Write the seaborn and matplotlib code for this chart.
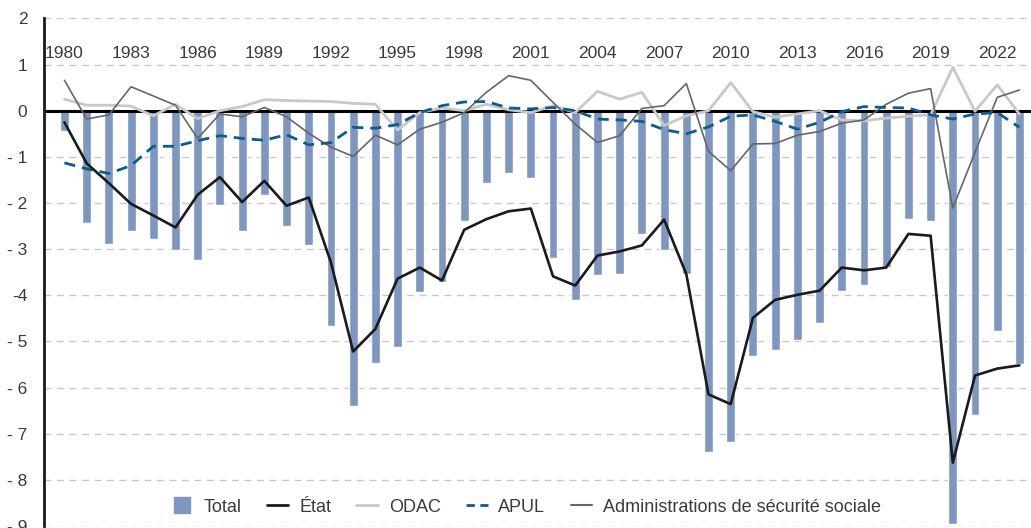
import pandas as pd
import matplotlib.pyplot as plt
import numpy as np
import seaborn as sns
from matplotlib.lines import Line2D

# Soldes des administrations publiques (en points de PIB), 1980-2023
years = list(range(1980, 2024))

total = [-0.45, -2.44, -2.88, -2.60, -2.79, -3.01, -3.24, -2.05, -2.60, -1.82,
         -2.49, -2.90, -4.66, -6.41, -5.46, -5.13, -3.92, -3.72, -2.40, -1.56,
         -1.34, -1.45, -3.20, -4.11, -3.57, -3.53, -2.68, -3.01, -3.53, -7.40,
         -7.18, -5.31, -5.18, -4.97, -4.60, -3.90, -3.77, -3.38, -2.34, -2.40,
         -8.95, -6.59, -4.77, -5.49]

etat = [-0.25, -1.14, -1.57, -2.02, -2.27, -2.53, -1.82, -1.44, -1.98, -1.52,
        -2.06, -1.88, -3.29, -5.22, -4.73, -3.64, -3.40, -3.68, -2.58, -2.35,
        -2.18, -2.12, -3.59, -3.79, -3.14, -3.05, -2.92, -2.36, -3.54, -6.15,
        -6.36, -4.49, -4.10, -3.99, -3.90, -3.40, -3.46, -3.40, -2.67, -2.71,
        -7.63, -5.74, -5.59, -5.52]

odac = [0.25, 0.12, 0.12, 0.10, -0.11, 0.14, -0.17, 0.00, 0.09, 0.24,
        0.22, 0.21, 0.20, 0.16, 0.14, -0.42, -0.04, 0.06, 0.00, 0.14,
        0.02, -0.04, 0.11, -0.04, 0.42, 0.25, 0.40, -0.32, -0.11, 0.00,
        0.61, -0.02, -0.14, -0.07, 0.00, -0.20, -0.22, -0.16, -0.12, -0.09,
        0.94, -0.01, 0.56, -0.07]

apul = [-1.13, -1.26, -1.36, -1.19, -0.77, -0.77, -0.65, -0.54, -0.60, -0.64,
        -0.52, -0.74, -0.69, -0.36, -0.38, -0.30, -0.04, 0.11, 0.19, 0.20,
        0.06, 0.04, 0.07, 0.00, -0.18, -0.20, -0.23, -0.41, -0.50, -0.35,
        -0.12, -0.09, -0.23, -0.40, -0.25, -0.02, 0.09, 0.07, 0.06, -0.09,
        -0.18, -0.07, -0.04, -0.36]

asso = [0.66, -0.18, -0.09, 0.52, 0.32, 0.12, -0.60, -0.07, -0.13, 0.07,
        -0.13, -0.49, -0.79, -0.99, -0.53, -0.74, -0.40, -0.25, -0.04, 0.40,
        0.76, 0.66, 0.18, -0.29, -0.69, -0.54, 0.05, 0.11, 0.59, -0.88,
        -1.30, -0.72, -0.71, -0.53, -0.45, -0.27, -0.20, 0.14, 0.38, 0.48,
        -2.11, -0.90, 0.29, 0.45]

year_labels = list(range(1980, 2024, 3))
ytick_vals = list(range(2, -10, -1))
ytick_labels = ["2", "1", "0", "- 1", "- 2", "- 3", "-4", "- 5", "- 6", "- 7", "- 8", "- 9"]

df = pd.DataFrame({"year": years, "Total": total, "État": etat, "ODAC": odac,
                   "APUL": apul, "ASSO": asso})

sns.set_style("white")
plt.rcParams["font.family"] = ["Liberation Sans", "DejaVu Sans"]
txt = "#3a3a3a"

fig = plt.figure(figsize=(10.31, 5.28), dpi=100)
ax = fig.add_axes([44 / 1031, 0.004, 987 / 1031, 0.961])

# grille pointillée
for v in ytick_vals:
    if v != 0:
        ax.axhline(v, color="#c8c8c8", lw=1, dashes=(5, 4), zorder=0)

sns.barplot(data=df, x="year", y="Total", native_scale=True, width=0.4,
            color="#7f96bf", saturation=1, ax=ax, zorder=1)

ax.axhline(0, color="black", lw=2.2, zorder=2)

sns.lineplot(data=df, x="year", y="ODAC", color="#c8c8c8", lw=2, ax=ax, zorder=3)
sns.lineplot(data=df, x="year", y="ASSO", color="#666666", lw=1.2, ax=ax, zorder=4)
sns.lineplot(data=df, x="year", y="APUL", color="#0d5b8f", lw=2, ax=ax, zorder=5)
ax.lines[-1].set_dashes((4, 2.5))
sns.lineplot(data=df, x="year", y="État", color="#1a1a1a", lw=1.9, ax=ax, zorder=6)

ax.set_xlim(1979.08, 2023.52)
ax.set_ylim(-9, 2)
ax.set_yticks(ytick_vals)
ax.set_yticklabels(ytick_labels)
ax.set_xticks([])
ax.set_xlabel("")
ax.set_ylabel("")
ax.tick_params(axis="y", length=0, pad=12, labelsize=12.5, labelcolor=txt)

for y in year_labels:
    ax.text(y, 1.25, str(y), ha="center", va="center", fontsize=12.5, color=txt)

for s in ["top", "right", "bottom"]:
    ax.spines[s].set_visible(False)
ax.spines["left"].set_color("#1a1a1a")
ax.spines["left"].set_linewidth(2)

handles = [
    Line2D([], [], marker="s", ls="none", color="#7f96bf", markersize=11),
    Line2D([], [], color="#1a1a1a", lw=2),
    Line2D([], [], color="#c8c8c8", lw=2),
    Line2D([], [], color="#0d5b8f", lw=2, dashes=(3, 2)),
    Line2D([], [], color="#666666", lw=1.5),
]
labels = ["Total", "État", "ODAC", "APUL", "Administrations de sécurité sociale"]
leg = ax.legend(handles, labels, loc="center", bbox_to_anchor=(526 / 1031, 21 / 528),
                bbox_transform=fig.transFigure, ncol=5, frameon=False, fontsize=13,
                handlelength=1.2, handletextpad=0.6, columnspacing=1.4)
for t in leg.get_texts():
    t.set_color(txt)

plt.savefig("out.png", dpi=100)
